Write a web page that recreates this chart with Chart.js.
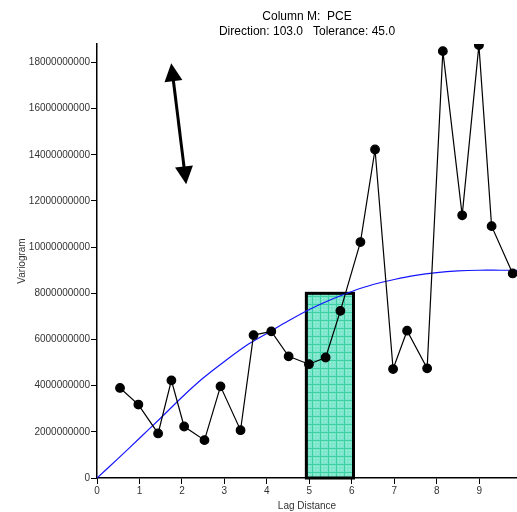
<!DOCTYPE html>
<html>
<head>
<meta charset="utf-8">
<script src="https://cdn.jsdelivr.net/npm/chart.js@4"></script>
<style>
  body { margin: 0; background: #fff; }
  canvas { display: block; }
</style>
</head>
<body>
<canvas id="variogramChart" width="517" height="512"></canvas>
<script>
// Experimental variogram (lag distance, value)
const lagDistance = [0.542, 0.974, 1.439, 1.752, 2.052, 2.531, 2.908, 3.38, 3.686, 4.104, 4.512, 4.991,
  5.384, 5.731, 6.203, 6.547, 6.972, 7.302, 7.774, 8.144, 8.599, 8.993, 9.292, 9.788];
const variogram = [3.90e9, 3.18e9, 1.93e9, 4.23e9, 2.23e9, 1.64e9, 3.97e9, 2.07e9, 6.19e9, 6.35e9, 5.27e9, 4.93e9,
  5.22e9, 7.24e9, 10.22e9, 14.23e9, 4.72e9, 6.38e9, 4.75e9, 18.49e9, 11.38e9, 18.75e9, 10.91e9, 8.86e9];

// Fitted model curve
const modelLag = [0, 0.5, 1, 1.5, 2, 2.5, 3, 3.5, 4, 4.5, 5, 5.5, 6, 6.5, 7, 7.5, 8, 8.5, 9, 9.5, 9.89];
const modelValue = [0, 0.85e9, 1.72e9, 2.6e9, 3.5e9, 4.33e9, 5.05e9, 5.72e9, 6.26e9, 6.8e9, 7.3e9, 7.72e9,
  8.08e9, 8.38e9, 8.6e9, 8.78e9, 8.9e9, 8.97e9, 9.0e9, 9.0e9, 9.0e9];

// Highlighted lag bin
const binLag = [4.93, 6.04];
const binTop = 8e9;

// Direction arrow (tips, in data units)
const arrowLag = [1.748, 2.1];
const arrowValue = [17.97e9, 12.72e9];

const xTicks = [0, 1, 2, 3, 4, 5, 6, 7, 8, 9];
const yTicks = [0, 2e9, 4e9, 6e9, 8e9, 10e9, 12e9, 14e9, 16e9, 18e9];

function makePattern() {
  const c = document.createElement("canvas");
  c.width = 8;
  c.height = 8;
  const g = c.getContext("2d");
  g.fillStyle = "#7ee6cc";
  g.fillRect(0, 0, 8, 8);
  g.fillStyle = "#a6f0dc";
  g.fillRect(2, 2, 1, 1);
  g.fillRect(5, 5, 1, 1);
  g.fillRect(2, 5, 1, 1);
  g.fillRect(5, 2, 1, 1);
  g.fillStyle = "#3cd0a2";
  g.fillRect(0, 0, 8, 1);
  g.fillRect(0, 0, 1, 8);
  return g.createPattern(c, "repeat");
}

const binBox = {
  id: "binBox",
  beforeDatasetsDraw(chart) {
    const { ctx, scales } = chart;
    const x1 = scales.x.getPixelForValue(binLag[0]);
    const x2 = scales.x.getPixelForValue(binLag[1]);
    const y1 = scales.y.getPixelForValue(binTop);
    const y2 = scales.y.getPixelForValue(0);
    ctx.save();
    ctx.fillStyle = makePattern();
    ctx.fillRect(x1, y1, x2 - x1, y2 - y1);
    ctx.strokeStyle = "#000";
    ctx.lineWidth = 3;
    ctx.strokeRect(x1, y1, x2 - x1, y2 - y1);
    ctx.restore();
  },
};

const directionArrow = {
  id: "directionArrow",
  afterDatasetsDraw(chart) {
    const { ctx, scales } = chart;
    const ax = scales.x.getPixelForValue(arrowLag[0]);
    const ay = scales.y.getPixelForValue(arrowValue[0]);
    const bx = scales.x.getPixelForValue(arrowLag[1]);
    const by = scales.y.getPixelForValue(arrowValue[1]);
    const ang = Math.atan2(by - ay, bx - ax);
    const headLen = 18;
    const headHalf = 9;

    function head(tx, ty, a) {
      ctx.beginPath();
      ctx.moveTo(tx, ty);
      ctx.lineTo(tx - headLen * Math.cos(a) + headHalf * Math.sin(a), ty - headLen * Math.sin(a) - headHalf * Math.cos(a));
      ctx.lineTo(tx - headLen * Math.cos(a) - headHalf * Math.sin(a), ty - headLen * Math.sin(a) + headHalf * Math.cos(a));
      ctx.closePath();
      ctx.fill();
    }

    ctx.save();
    ctx.strokeStyle = "#000";
    ctx.fillStyle = "#000";
    ctx.lineWidth = 3;
    ctx.beginPath();
    ctx.moveTo(ax + headLen * Math.cos(ang) * 0.8, ay + headLen * Math.sin(ang) * 0.8);
    ctx.lineTo(bx - headLen * Math.cos(ang) * 0.8, by - headLen * Math.sin(ang) * 0.8);
    ctx.stroke();
    head(ax, ay, ang + Math.PI);
    head(bx, by, ang);
    ctx.restore();
  },
};

const ctx = document.getElementById("variogramChart");
new Chart(ctx, {
  type: "scatter",
  data: {
    datasets: [
      {
        label: "Experimental",
        data: lagDistance.map((x, i) => ({ x: x, y: variogram[i] })),
        showLine: true,
        borderColor: "#000",
        backgroundColor: "#000",
        borderWidth: 1.2,
        pointRadius: 4.3,
        pointHoverRadius: 4.3,
        tension: 0,
      },
      {
        label: "Model",
        data: modelLag.map((x, i) => ({ x: x, y: modelValue[i] })),
        showLine: true,
        borderColor: "#1414ff",
        borderWidth: 1.2,
        pointRadius: 0,
        tension: 0.3,
      },
    ],
  },
  options: {
    responsive: false,
    animation: false,
    layout: { padding: 0, autoPadding: false },
    plugins: {
      legend: { display: false },
      tooltip: { enabled: false },
      title: {
        display: true,
        fullSize: false,
        text: ["Column M:  PCE", "Direction: 103.0   Tolerance: 45.0"],
        color: "#000",
        font: { family: "'Liberation Sans', Arial, sans-serif", size: 12, weight: "normal", lineHeight: 1.25 },
        padding: { top: 9, bottom: 5 },
      },
    },
    scales: {
      x: {
        type: "linear",
        min: 0,
        max: 9.89,
        afterBuildTicks: (scale) => {
          scale.ticks = xTicks.map((v) => ({ value: v }));
        },
        afterFit: (scale) => {
          scale.height = 34;
        },
        border: { display: true, color: "#000", width: 1.5 },
        grid: { drawOnChartArea: false, tickLength: 6, tickColor: "#000", tickWidth: 1 },
        ticks: {
          color: "#333",
          padding: 1,
          maxRotation: 0,
          font: { family: "'Liberation Sans', Arial, sans-serif", size: 10 },
        },
        title: {
          display: true,
          text: "Lag Distance",
          color: "#333",
          padding: 0,
          font: { family: "'Liberation Sans', Arial, sans-serif", size: 10 },
        },
      },
      y: {
        type: "linear",
        min: 0,
        max: 18.8e9,
        afterBuildTicks: (scale) => {
          scale.ticks = yTicks.map((v) => ({ value: v }));
        },
        afterFit: (scale) => {
          scale.width = 97;
        },
        border: { display: true, color: "#000", width: 1.5 },
        grid: { drawOnChartArea: false, tickLength: 6, tickColor: "#000", tickWidth: 1 },
        ticks: {
          color: "#333",
          padding: 1,
          font: { family: "'Liberation Sans', Arial, sans-serif", size: 10 },
          callback: function (value) {
            return value.toFixed(0);
          },
        },
        title: {
          display: true,
          text: "Variogram",
          color: "#333",
          padding: { top: 16, bottom: 0 },
          font: { family: "'Liberation Sans', Arial, sans-serif", size: 10 },
        },
      },
    },
  },
  plugins: [binBox, directionArrow],
});
</script>
</body>
</html>
